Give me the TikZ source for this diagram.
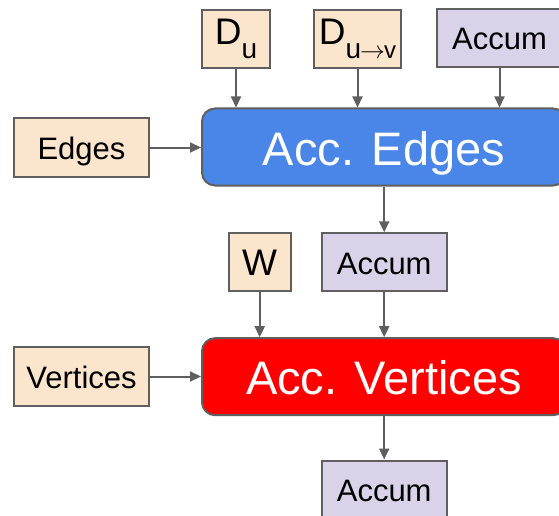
\documentclass[tikz,border=0pt]{standalone}
\usepackage{fontspec}
\setmainfont{Liberation Sans}
\usetikzlibrary{arrows.meta}
\definecolor{peach}{HTML}{FCE5CD}
\definecolor{lavender}{HTML}{D9D2E9}
\definecolor{stageblue}{HTML}{4A86E8}
\definecolor{stagered}{HTML}{FF0000}
\definecolor{edgegray}{HTML}{5F5F5F}
\tikzset{
  box/.style={draw=edgegray, line width=2pt, inner sep=0pt, align=center},
  label31/.style={font=\fontsize{31}{31}\selectfont, text height=24pt, text depth=0pt},
  inbox/.style={box, fill=peach, minimum height=58pt},
  accbox/.style={box, fill=lavender, minimum width=125pt, minimum height=58pt, label31},
  stage/.style={box, rounded corners=13pt, minimum width=364pt, minimum height=77pt,
    text=white, font=\fontsize{47}{47}\selectfont, text height=36pt, text depth=0pt},
  flow/.style={draw=edgegray, line width=2pt, -{Triangle[length=11pt,width=10pt]}},
}
\newcommand{\bigsym}[2]{{\fontsize{37}{37}\selectfont #1}\raisebox{-14pt}{\fontsize{28}{28}\selectfont #2}}
\begin{document}
\begin{tikzpicture}[x=1pt, y=-1pt]
  \useasboundingbox (0,0) rectangle (559,516);
  \clip (0,0) rectangle (559,516);

  % inputs of the edge stage
  \node[inbox, minimum width=68pt] (du) at (236,39) {\bigsym{D}{u}};
  \node[inbox, minimum width=87pt] (duv) at (357.5,39) {\bigsym{D}{u\kern-1pt\fontsize{24}{24}\selectfont$\rightarrow$\kern-1pt v}};
  \node[accbox] (acc1) at (499.5,38) {Accum};
  \node[inbox, minimum width=135pt, minimum height=59pt, label31] (edges) at (81.5,147.5) {Edges};

  % edge stage
  \node[stage, fill=stageblue] (accedges) at (384,147) {Acc. Edges};

  % inputs of the vertex stage
  \node[inbox, minimum width=62pt, font=\fontsize{37}{37}\selectfont, text height=25.5pt, text depth=0pt] (w) at (259.7,262.3) {W};
  \node[accbox] (acc2) at (384.2,262.3) {Accum};
  \node[inbox, minimum width=135pt, minimum height=59pt, label31] (vertices) at (81.5,376.5) {Vertices};

  % vertex stage
  \node[stage, fill=stagered] (accvertices) at (384,376.7) {Acc. Vertices};

  % result
  \node[accbox] (acc3) at (384.2,489.5) {Accum};

  % connectors
  \draw[flow] (du.south) -- (du.south |- accedges.north);
  \draw[flow] (duv.south) -- (duv.south |- accedges.north);
  \draw[flow] (acc1.south) -- (acc1.south |- accedges.north);
  \draw[flow] (edges.east) -- (edges.east -| accedges.west);
  \draw[flow] (accedges.south -| acc2.north) -- (acc2.north);
  \draw[flow] (w.south) -- (w.south |- accvertices.north);
  \draw[flow] (acc2.south) -- (acc2.south |- accvertices.north);
  \draw[flow] (vertices.east) -- (vertices.east -| accvertices.west);
  \draw[flow] (accvertices.south -| acc3.north) -- (acc3.north);
\end{tikzpicture}
\end{document}
